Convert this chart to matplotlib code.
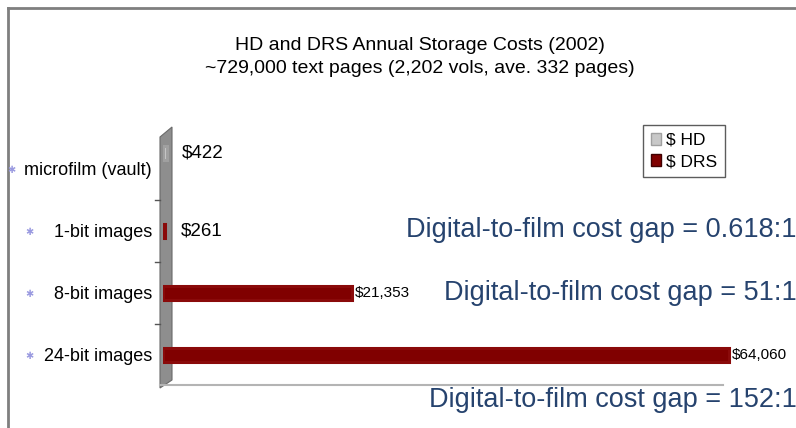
import matplotlib
matplotlib.use('Agg')
import matplotlib.pyplot as plt
from matplotlib.patches import Polygon
import numpy as np

plt.rcParams['font.family'] = ['Liberation Sans', 'DejaVu Sans']

# data
categories = ['microfilm (vault)', '1-bit images', '8-bit images', '24-bit images']
hd_cost = [422, 0, 0, 0]
drs_cost = [0, 261, 21353, 64060]
hd_labels = ['$422', '', '', '']
drs_labels = ['', '$261', '$21,353', '$64,060']
gap_texts = ['Digital-to-film cost gap = 0.618:1',
             'Digital-to-film cost gap = 51:1',
             'Digital-to-film cost gap = 152:1']
title = 'HD and DRS Annual Storage Costs (2002)\n~729,000 text pages (2,202 vols, ave. 332 pages)'

W, H = 796, 428
fig = plt.figure(figsize=(W / 100, H / 100), dpi=100)

# background layer in pixel coordinates (frame, 3d wall, floor)
bg = fig.add_axes([0, 0, 1, 1], zorder=0)
bg.set_xlim(0, W)
bg.set_ylim(H, 0)
bg.axis('off')
bg.plot([8, W], [8, 8], color='#7f7f7f', lw=2)
bg.plot([8, 8], [8, H], color='#7f7f7f', lw=2)
bg.add_patch(Polygon([(160, 137), (172, 127), (172, 380), (160, 388)],
                     closed=True, facecolor='#8e8e8e', edgecolor='#6a6a6a', lw=0.8))
bg.plot([160, 723], [385, 385], color='#b4b4b4', lw=1.5)
for ty in [200, 262, 324]:
    bg.plot([155, 160], [ty, ty], color='#555555', lw=1)

# bar axes
ax = fig.add_axes([163 / W, 1 - 385 / H, 618.5 / W, 255 / H], zorder=1)
ax.patch.set_alpha(0)
y = np.arange(len(categories))
hd = np.array(hd_cost)
drs = np.array(drs_cost)
h = 0.23
# zero values are not drawn (no bar in the reference)
ax.barh(y[hd > 0] - 0.26, hd[hd > 0], height=h, color='#c8c8c8', edgecolor='#a0a0a0', lw=2.2)
ax.barh(y[drs > 0], drs[drs > 0], height=h, color='#800000', edgecolor='#8a0a0a', lw=2.2)
ax.set_xlim(0, 70000)
ax.set_ylim(3.484, -0.629)
for s in ax.spines.values():
    s.set_visible(False)
ax.set_xticks([])
ax.set_yticks(y)
ax.set_yticklabels(categories, fontsize=13)
ax.tick_params(axis='y', length=0, pad=8)

offsets = [11, 11, 2, 2]
for i in range(len(categories)):
    if hd_labels[i]:
        ax.annotate(hd_labels[i], (hd_cost[i], y[i] - 0.26), xytext=(offsets[i], 0),
                    textcoords='offset points', va='center', fontsize=13.5, annotation_clip=False)
    if drs_labels[i]:
        fs = 13.5 if drs_cost[i] < 1000 else 11
        ax.annotate(drs_labels[i], (drs_cost[i], y[i]), xytext=(offsets[i], 0),
                    textcoords='offset points', va='center', fontsize=fs, annotation_clip=False)

# lavender bullets next to the category labels
for i, yy in enumerate([170, 232, 294, 356]):
    bx = 11 if i == 0 else 29
    bg.text(bx, yy, '\u2731', color='#9a9ae0', fontsize=7, ha='center', va='center',
            family='DejaVu Sans')

fig.text(420 / W, 1 - 57 / H, title, ha='center', va='center', fontsize=14, linespacing=1.45)

for txt, ty in zip(gap_texts, [230, 293, 400]):
    bg.text(797, ty, txt, ha='right', va='center', fontsize=19.5, color='#26436e')

leg = ax.legend([plt.Rectangle((0, 0), 1, 1, fc='#c8c8c8', ec='#a0a0a0'),
                 plt.Rectangle((0, 0), 1, 1, fc='#800000', ec='#400000')],
                ['$ HD', '$ DRS'], loc='upper left', bbox_to_anchor=(643 / W, 1 - 125 / H),
                bbox_transform=fig.transFigure, fontsize=12.5, frameon=True, fancybox=False,
                handlelength=0.6, handleheight=0.7, handletextpad=0.3, borderpad=0.45,
                labelspacing=0.35, borderaxespad=0)
leg.get_frame().set_edgecolor('#333333')
leg.get_frame().set_linewidth(1)

fig.savefig('out.png', dpi=100)
